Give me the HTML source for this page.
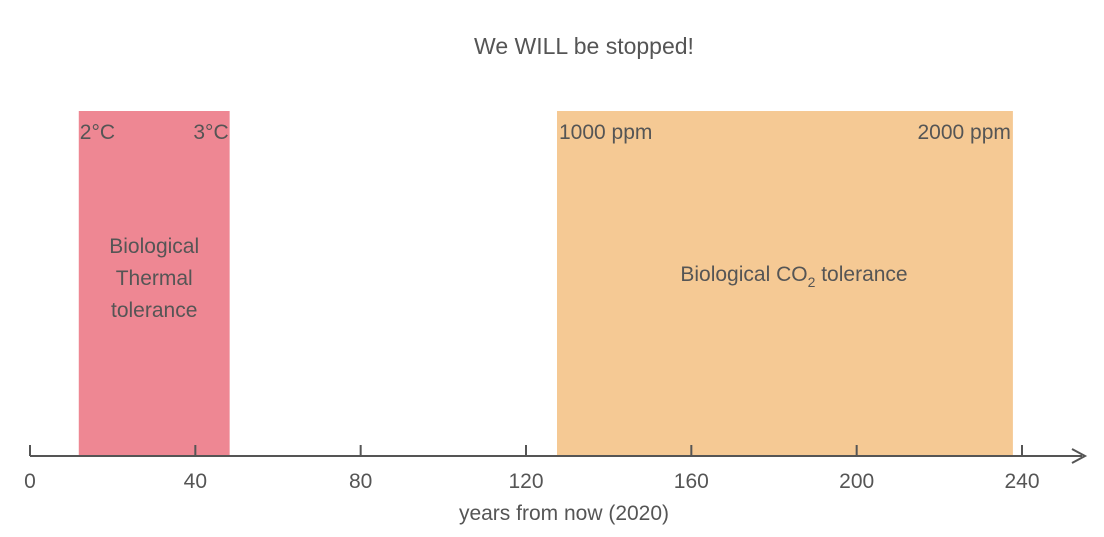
<!DOCTYPE html>
<html><head><meta charset="utf-8"><style>
html,body{margin:0;padding:0;background:#fff;width:1104px;height:537px;overflow:hidden}
svg text{font-family:"Liberation Sans",sans-serif;fill:#555}
</style></head><body>
<svg id="chart" width="1104" height="537">
<text x="584" y="54" font-size="23" text-anchor="middle" fill="#333">We WILL be stopped!</text>
<g id="bands"></g>
<g id="axis"></g>
<text x="564" y="520" font-size="21" text-anchor="middle">years from now (2020)</text>
</svg>
<script>
const tickValues=[0,40,80,120,160,200,240];
const bandStarts=[11.8,127.5];
const bandEnds=[48.3,237.8];
const bandColors=['#ee8793','#f5c994'];
const bandNames=['thermal-tolerance-band','co2-tolerance-band'];
const x=v=>30+v*(1022-30)/240;
const axisY=456, topY=111;
const NS='http://www.w3.org/2000/svg';
function mk(tag,attrs,parent,text){const e=document.createElementNS(NS,tag);for(const k in attrs)e.setAttribute(k,attrs[k]);if(text!==undefined)e.textContent=text;parent.appendChild(e);return e;}
const bands=document.getElementById('bands');
for(let i=0;i<bandStarts.length;i++){
  const r=mk('rect',{x:x(bandStarts[i]),y:topY,width:x(bandEnds[i])-x(bandStarts[i]),height:axisY-topY,fill:bandColors[i]},bands);
  
  
}
const labels=[
 [x(bandStarts[0])+1,139,'start','2°C'],[x(bandEnds[0])-1,139,'end','3°C'],
 [x(bandStarts[1])+2,139,'start','1000 ppm'],[x(bandEnds[1])-2,139,'end','2000 ppm']];
labels.forEach(l=>{const t=mk('text',{x:l[0],y:l[1],'font-size':21,'text-anchor':l[2],fill:'#555'},bands,l[3]);
 
 });
const cx=(x(bandStarts[0])+x(bandEnds[0]))/2;
['Biological','Thermal','tolerance'].forEach((s,i)=>{const t=mk('text',{x:cx,y:253+i*32,'font-size':21,'text-anchor':'middle'},bands,s);
 
 });
const c2=mk('text',{x:794,y:281,'font-size':21,'text-anchor':'middle'},bands);


c2.innerHTML='Biological CO<tspan font-size="14" dy="6">2</tspan><tspan dy="-6"> tolerance</tspan>';
const ax=document.getElementById('axis');
const line=mk('line',{x1:x(0),y1:axisY,x2:1082,y2:axisY,stroke:'#555','stroke-width':2},ax);


const arr=mk('path',{d:`M1072 ${axisY-7} L1085 ${axisY} L1072 ${axisY+7}`,stroke:'#555','stroke-width':2,fill:'none'},ax);


tickValues.forEach(v=>{
  const t=mk('line',{x1:x(v),y1:axisY-11,x2:x(v),y2:axisY,stroke:'#555','stroke-width':2},ax);
  
  
  const l=mk('text',{x:x(v),y:488,'font-size':21,'text-anchor':'middle'},ax,String(v));
  
  
});
</script>
</body></html>
